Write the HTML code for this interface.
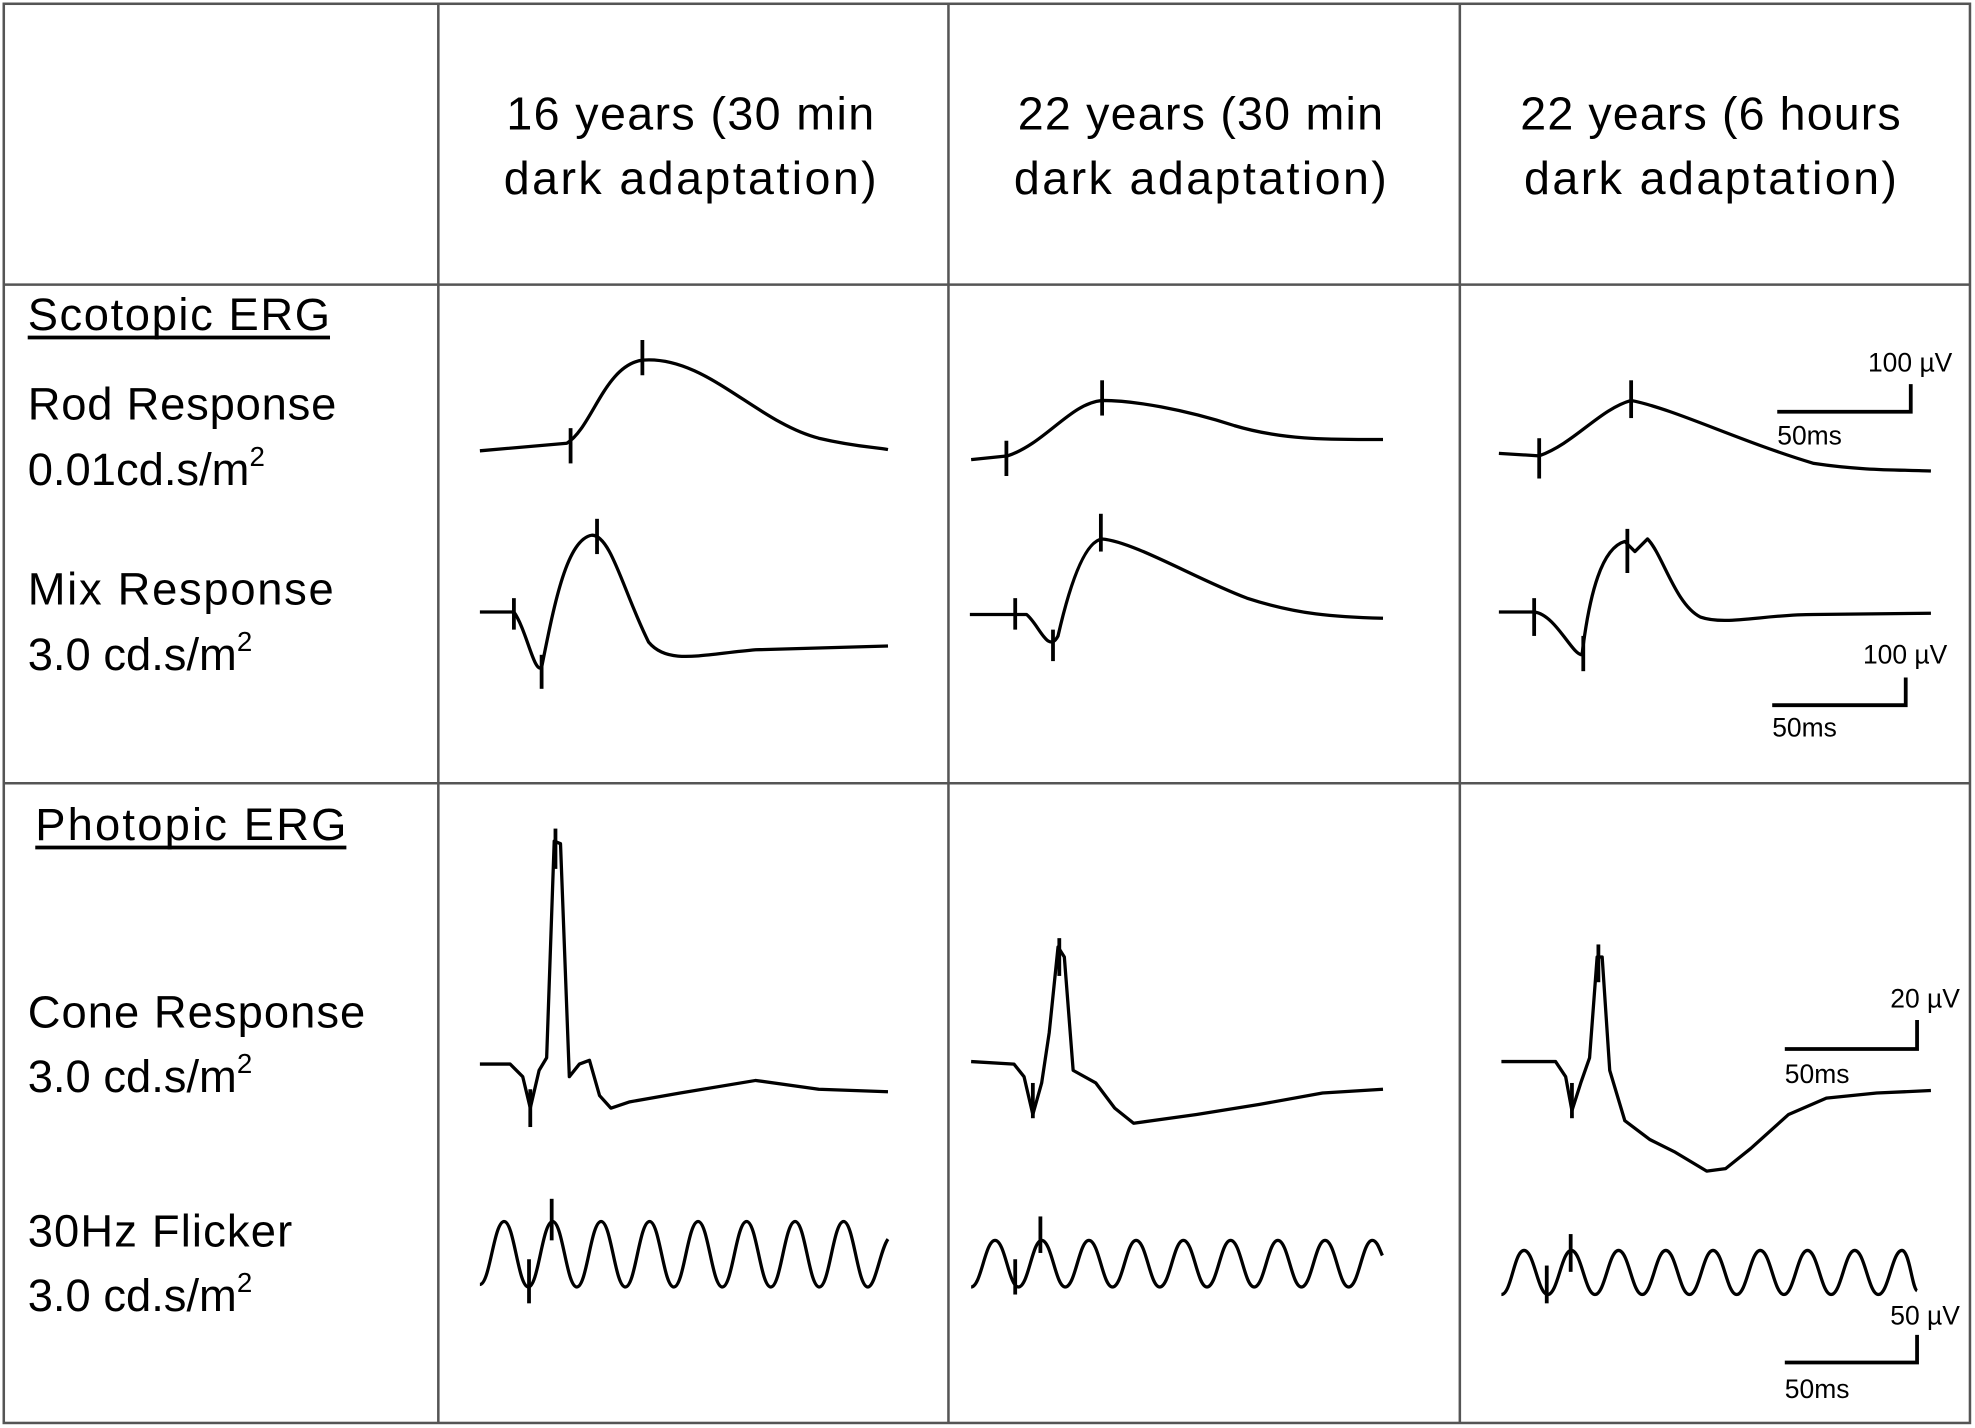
<!DOCTYPE html>
<html><head><meta charset="utf-8"><style>html,body{margin:0;padding:0;background:#fff}svg{display:block}</style></head>
<body>
<svg width="1975" height="1428" viewBox="0 0 1568 1134" preserveAspectRatio="none" xmlns="http://www.w3.org/2000/svg">
<rect x="0" y="0" width="1568" height="1134" fill="#fff"/>
<g stroke="#555" stroke-width="2" fill="none">
<rect x="3" y="3" width="1561" height="1127"/>
<line x1="348" y1="3" x2="348" y2="1130"/>
<line x1="753" y1="3" x2="753" y2="1130"/>
<line x1="1159" y1="3" x2="1159" y2="1130"/>
<line x1="3" y1="226" x2="1564" y2="226"/>
<line x1="3" y1="622" x2="1564" y2="622"/>
</g>
<g font-family="Liberation Sans, sans-serif" font-size="37" fill="#000" text-anchor="middle">
<text x="548" y="103" textLength="292">16 years (30 min</text><text x="548" y="154" textLength="296">dark adaptation)</text>
<text x="953" y="103" textLength="290">22 years (30 min</text><text x="953" y="154" textLength="296">dark adaptation)</text>
<text x="1358" y="103" textLength="302">22 years (6 hours</text><text x="1358" y="154" textLength="296">dark adaptation)</text>
</g>
<g font-family="Liberation Sans, sans-serif" font-size="36" fill="#000">
<text x="22" y="262" textLength="240">Scotopic  ERG</text>
<line x1="22" y1="268" x2="262" y2="268" stroke="#000" stroke-width="3"/>
<text x="22" y="333" textLength="245">Rod Response</text>
<text x="22" y="385">0.01cd.s/m<tspan font-size="22" dy="-15">2</tspan></text>
<text x="22" y="480" textLength="243">Mix Response</text>
<text x="22" y="532">3.0 cd.s/m<tspan font-size="22" dy="-15">2</tspan></text>
<text x="28" y="667" textLength="247">Photopic  ERG</text>
<line x1="28" y1="673" x2="275" y2="673" stroke="#000" stroke-width="3"/>
<text x="22" y="816" textLength="268">Cone Response</text>
<text x="22" y="867">3.0 cd.s/m<tspan font-size="22" dy="-15">2</tspan></text>
<text x="22" y="990" textLength="210">30Hz Flicker</text>
<text x="22" y="1041">3.0 cd.s/m<tspan font-size="22" dy="-15">2</tspan></text>
</g>
<g font-family="Liberation Sans, sans-serif" font-size="21" fill="#000">
<text x="1550" y="295" text-anchor="end">100 µV</text><text x="1411" y="353">50ms</text>
<text x="1546" y="527" text-anchor="end">100 µV</text><text x="1407" y="585">50ms</text>
<text x="1556" y="800" text-anchor="end">20 µV</text><text x="1417" y="860">50ms</text>
<text x="1556" y="1052" text-anchor="end">50 µV</text><text x="1417" y="1110">50ms</text>
</g>
<g stroke="#000" stroke-width="3" fill="none">
<polyline points="1411,327 1517,327 1517,305"/>
<polyline points="1407,560 1513,560 1513,538"/>
<polyline points="1417,833 1522,833 1522,810"/>
<polyline points="1417,1082 1522,1082 1522,1060"/>
</g>
<g stroke="#000" stroke-width="2.6" fill="none" stroke-linejoin="round">
<path d="M381,358 L450,352 C470,340 480,290 510,286 C560,282 600,335 650,348 C680,355 695,355 705,357"/>
<path d="M771,365 L800,362 C830,352 850,320 875,318 C900,318 940,325 980,338 C1020,350 1060,349 1098,349"/>
<path d="M1190,360 L1222,362 C1250,352 1270,325 1295,318 C1330,325 1380,350 1440,368 C1480,374 1510,373 1533,374"/>
<path d="M381,486 L408,486 C418,500 424,535 430,530 C440,480 450,428 470,425 C485,425 495,470 515,510 C530,528 555,520 600,516 L705,513"/>
<path d="M770,488 L815,488 C825,496 832,520 840,505 C848,470 860,430 875,428 C900,430 950,460 990,475 C1030,488 1060,490 1098,491"/>
<path d="M1190,486 L1218,486 C1235,488 1248,520 1256,520 C1262,470 1272,435 1290,430 L1298,438 L1308,428 C1320,440 1330,480 1350,490 C1370,497 1400,488 1440,488 L1533,487"/>
<polyline points="381,845 405,845 415,855 421,880 428,850 434,840 440,668 445,670 452,855 460,845 468,842 476,870 485,880 500,875 540,868 600,858 650,865 705,867"/>
<polyline points="771,843 805,845 813,855 820,885 827,860 833,820 840,752 845,760 852,850 870,860 885,880 900,892 950,885 1000,877 1050,868 1098,865"/>
<polyline points="1192,843 1235,843 1243,855 1248,882 1255,860 1262,840 1268,760 1272,760 1278,850 1290,890 1310,905 1330,915 1355,930 1370,928 1390,912 1420,885 1450,872 1490,868 1533,866"/>
<path d="M381,1020 c8,0 11,-50 19.25,-50 c8,0 11,52 19.25,52 c8,0 11,-52 19.25,-52 c8,0 11,52 19.25,52 c8,0 11,-52 19.25,-52 c8,0 11,52 19.25,52 c8,0 11,-52 19.25,-52 c8,0 11,52 19.25,52 c8,0 11,-52 19.25,-52 c8,0 11,52 19.25,52 c8,0 11,-52 19.25,-52 c8,0 11,52 19.25,52 c8,0 11,-52 19.25,-52 c8,0 11,52 19.25,52 c8,0 11,-52 19.25,-52 c8,0 11,52 19.25,52 c6,0 10,-30 16,-38"/>
<path d="M771,1022 c8,0 11,-37 19,-37 c8,0 11,37 18.5,37 c8,0 11,-37 18.5,-37 c8,0 11,37 18.75,37 c8,0 11,-37 18.75,-37 c8,0 11,37 18.75,37 c8,0 11,-37 18.75,-37 c8,0 11,37 18.75,37 c8,0 11,-37 18.75,-37 c8,0 11,37 18.75,37 c8,0 11,-37 18.75,-37 c8,0 11,37 18.75,37 c8,0 11,-37 18.75,-37 c8,0 11,37 18.75,37 c8,0 11,-37 18.75,-37 c8,0 11,37 18.75,37 c8,0 11,-37 18.75,-37 c4,0 6,8 8,12"/>
<path d="M1192,1028 c8,0 10,-35 18,-35 c8,0 11,35 18.75,35 c8,0 11,-35 18.75,-35 c8,0 11,35 18.75,35 c8,0 11,-35 18.75,-35 c8,0 11,35 18.75,35 c8,0 11,-35 18.75,-35 c8,0 11,35 18.75,35 c8,0 11,-35 18.75,-35 c8,0 11,35 18.75,35 c8,0 11,-35 18.75,-35 c8,0 11,35 18.75,35 c8,0 11,-35 18.75,-35 c8,0 11,35 18.75,35 c8,0 11,-35 18.75,-35 c8,0 11,35 18.75,35 c8,0 11,-35 18.75,-35 c6,0 8,30 12,32"/>
</g>
<g stroke="#000" stroke-width="3">
<line x1="453" y1="340" x2="453" y2="368"/><line x1="510" y1="270" x2="510" y2="298"/>
<line x1="799" y1="350" x2="799" y2="378"/><line x1="875" y1="302" x2="875" y2="330"/>
<line x1="1222" y1="348" x2="1222" y2="380"/><line x1="1295" y1="302" x2="1295" y2="332"/>
<line x1="408" y1="475" x2="408" y2="500"/><line x1="430" y1="520" x2="430" y2="547"/><line x1="474" y1="412" x2="474" y2="440"/>
<line x1="806" y1="475" x2="806" y2="500"/><line x1="836" y1="500" x2="836" y2="525"/><line x1="874" y1="408" x2="874" y2="438"/>
<line x1="1218" y1="475" x2="1218" y2="505"/><line x1="1257" y1="505" x2="1257" y2="533"/><line x1="1292" y1="420" x2="1292" y2="455"/>
<line x1="421" y1="865" x2="421" y2="895"/><line x1="441" y1="658" x2="441" y2="690"/>
<line x1="820" y1="860" x2="820" y2="888"/><line x1="841" y1="745" x2="841" y2="775"/>
<line x1="1248" y1="860" x2="1248" y2="888"/><line x1="1269" y1="750" x2="1269" y2="780"/>
<line x1="420" y1="1000" x2="420" y2="1035"/><line x1="438" y1="952" x2="438" y2="985"/>
<line x1="806" y1="1000" x2="806" y2="1028"/><line x1="826" y1="966" x2="826" y2="995"/>
<line x1="1228" y1="1005" x2="1228" y2="1035"/><line x1="1247" y1="980" x2="1247" y2="1010"/>
</g>
</svg>
</body></html>
